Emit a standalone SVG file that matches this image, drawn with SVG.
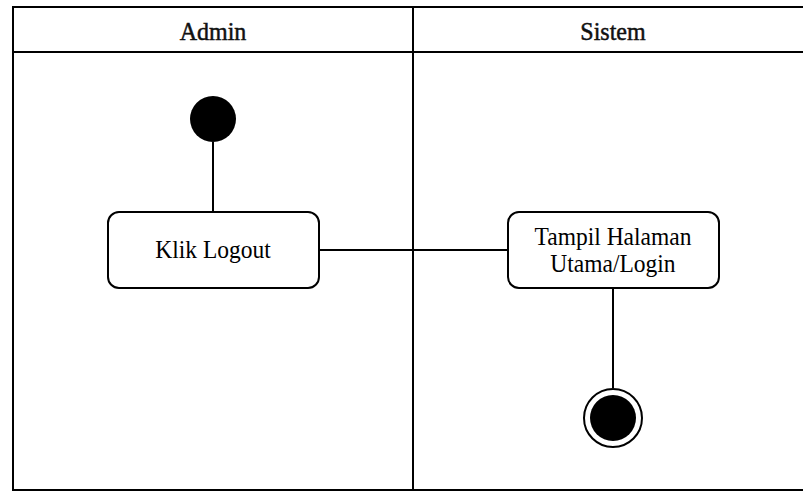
<svg xmlns="http://www.w3.org/2000/svg" width="803" height="492" viewBox="0 0 803 492">
  <style>
    .lane { fill: none; stroke: #000; stroke-width: 2; }
    .box { fill: #fff; stroke: #000; stroke-width: 2; }
    .edge { fill: none; stroke: #000; stroke-width: 2; }
    .lbl { font-family: "Liberation Serif", "DejaVu Serif", "Times New Roman", serif; font-size: 25px; fill: #000; text-anchor: middle; }
    .hdr { font-family: "Liberation Serif", "DejaVu Serif", "Times New Roman", serif; font-size: 25px; fill: #111; stroke: #111; stroke-width: 0.5; text-anchor: middle; }
  </style>
  <rect width="803" height="492" fill="#fff"/>

  <!-- swimlanes -->
  <g id="lanes">
    <rect class="lane" x="13" y="7" width="800" height="483"/>
    <line class="lane" x1="13" y1="52" x2="803" y2="52"/>
    <line class="lane" x1="413" y1="7" x2="413" y2="490"/>
    <text class="hdr" transform="translate(213,40) scale(0.96,1)">Admin</text>
    <text class="hdr" transform="translate(613,40) scale(0.96,1)">Sistem</text>
  </g>

  <!-- connectors -->
  <g id="connectors">
    <line class="edge" x1="213" y1="142" x2="213" y2="212"/>
    <line class="edge" x1="319" y1="250" x2="508" y2="250"/>
    <line class="edge" x1="613" y1="288" x2="613" y2="388"/>
  </g>

  <g id="start">
    <circle cx="213" cy="119" r="23" fill="#000"/>
  </g>

  <g id="klik-logout">
    <rect class="box" x="108" y="212" width="211" height="76" rx="11"/>
    <text class="lbl" transform="translate(213,258) scale(0.94,1)">Klik Logout</text>
  </g>

  <g id="tampil-halaman">
    <rect class="box" x="508" y="212" width="211" height="76" rx="11"/>
    <text class="lbl" transform="translate(613,245) scale(0.94,1)">Tampil Halaman</text>
    <text class="lbl" transform="translate(613,272) scale(0.94,1)">Utama/Login</text>
  </g>

  <g id="end">
    <circle cx="613" cy="418" r="29" fill="#fff" stroke="#000" stroke-width="2"/>
    <circle cx="613" cy="418" r="23" fill="#000"/>
  </g>
</svg>
